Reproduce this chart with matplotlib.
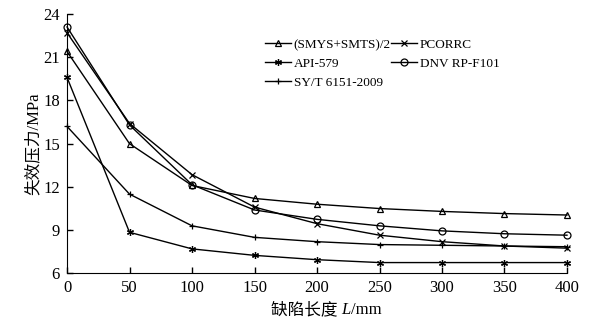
import matplotlib
matplotlib.use("Agg")
import matplotlib.pyplot as plt

plt.rcParams['font.family'] = ['Liberation Serif', 'Noto Sans CJK SC']

# 缺陷长度 (mm)
L = [0, 50, 100, 150, 200, 250, 300, 350, 400]

# 失效压力 (MPa)
smys_smts = [21.4, 15.0, 12.1, 11.2, 10.8, 10.5, 10.3, 10.15, 10.05]
pcorrc = [22.7, 16.4, 12.85, 10.6, 9.45, 8.65, 8.2, 7.9, 7.75]
api579 = [19.6, 8.85, 7.7, 7.25, 6.95, 6.75, 6.75, 6.75, 6.75]
dnv = [23.1, 16.3, 12.15, 10.4, 9.75, 9.3, 8.95, 8.75, 8.65]
syt = [16.2, 11.5, 9.3, 8.5, 8.2, 8.0, 7.95, 7.9, 7.85]

fig, ax = plt.subplots(figsize=(5.9, 3.22), dpi=100)
fig.subplots_adjust(left=0.1136, right=0.961, bottom=0.151, top=0.9565)

kw = dict(color="black", linewidth=1.0, markersize=5, clip_on=False,
          markerfacecolor="none", markeredgewidth=0.9)

l1, = ax.plot(L, smys_smts, marker="^", label="(SMYS+SMTS)/2", **kw)
l2, = ax.plot(L, api579, marker=(6, 2, 0), label="API-579", **kw)
l3, = ax.plot(L, syt, marker="+", label="SY/T 6151-2009", **kw)
l4, = ax.plot(L, pcorrc, marker="x", label="PCORRC", **kw)
l5, = ax.plot(L, dnv, marker="o", label="DNV RP-F101", **kw)

ax.set_xlim(0, 400)
ax.set_ylim(6, 24)
ax.set_xticks([0, 50, 100, 150, 200, 250, 300, 350, 400])
ax.set_yticks([6, 9, 12, 15, 18, 21, 24])

ax.spines["top"].set_visible(False)
ax.spines["right"].set_visible(False)
ax.tick_params(direction="in", length=4, width=1, labelsize=12, pad=5)

ax.set_ylabel("失效压力/MPa", fontsize=12, labelpad=1)

# x轴标题: L 用斜体
t1 = fig.text(0.459, 0.024, "缺陷长度 ", fontsize=12, ha="left", va="baseline")
t2 = ax.annotate("L", xy=(1, 0), xycoords=t1, fontsize=12, style="italic",
                 ha="left", va="bottom")
ax.annotate("/mm", xy=(1, 0), xycoords=t2, fontsize=12, ha="left", va="bottom")

ax.legend(handles=[l1, l2, l3, l4, l5], ncol=2, frameon=False, fontsize=9.5,
          loc="upper left", bbox_to_anchor=(0.385, 0.925),
          handlelength=2.0, handletextpad=0.2, columnspacing=0.0,
          labelspacing=0.5, borderaxespad=0)

fig.savefig("out.png", dpi=100)
